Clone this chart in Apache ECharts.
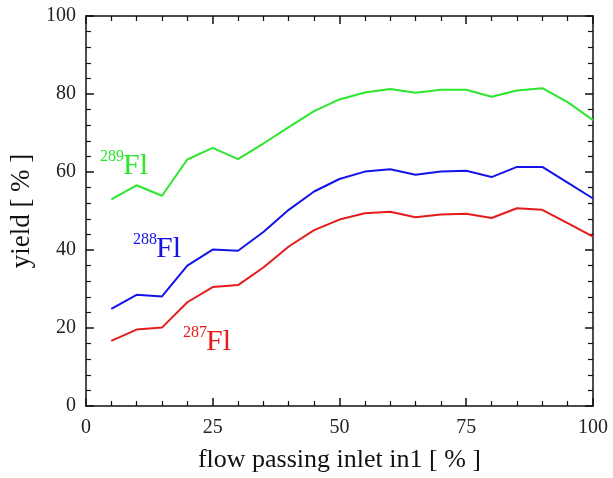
<!DOCTYPE html>
<html>
<head>
<meta charset="utf-8">
<script src="https://cdn.jsdelivr.net/npm/echarts@6/dist/echarts.min.js"></script>
<style>
html, body { margin: 0; padding: 0; background: #fff; }
#main { width: 613px; height: 478px; }
</style>
</head>
<body>
<div id="main"></div>
<script>
// flow passing inlet in1 [%]
var flow = [5, 10, 15, 20, 25, 30, 35, 40, 45, 50, 55, 60, 65, 70, 75, 80, 85, 90, 95, 100];

// yields [%]
var fl289 = [53.0, 56.6, 53.9, 63.2, 66.2, 63.3, 67.3, 71.5, 75.6, 78.6, 80.4, 81.3, 80.3, 81.1, 81.1, 79.3, 80.9, 81.5, 77.9, 73.3];
var fl288 = [24.9, 28.5, 28.1, 36.0, 40.1, 39.8, 44.6, 50.3, 55.0, 58.2, 60.1, 60.7, 59.3, 60.1, 60.3, 58.7, 61.3, 61.3, 57.3, 53.2];
var fl287 = [16.7, 19.6, 20.1, 26.6, 30.5, 31.0, 35.5, 40.9, 45.1, 47.8, 49.4, 49.8, 48.4, 49.1, 49.3, 48.2, 50.7, 50.3, 46.9, 43.4];

var xTicks = [0, 25, 50, 75, 100];
var yTicks = [0, 20, 40, 60, 80, 100];

var FONT = '"Liberation Serif", "DejaVu Serif", serif';
var green = '#2ce62c';
var blue  = '#1414e8';
var red   = '#e41c1c';

function pairs(ys) {
    var out = [];
    for (var i = 0; i < flow.length; i++) {
        out.push([flow[i], ys[i]]);
    }
    return out;
}

var dom   = document.getElementById('main');
var chart = echarts.init(dom);

var axisLine  = { show: true, onZero: false, lineStyle: { color: '#111', width: 1.5 } };
var axisTick  = { show: true, inside: true, length: 8, lineStyle: { color: '#111', width: 1.5 } };
var minorTick = { show: true, splitNumber: 5, length: 5, lineStyle: { color: '#111', width: 1.2 } };

function mirror(pos, isX) {
    return {
        type: 'value',
        position: pos,
        min: 0,
        max: 100,
        interval: isX ? 25 : 20,
        axisLine: axisLine,
        axisTick: axisTick,
        minorTick: minorTick,
        axisLabel: { show: false },
        splitLine: { show: false }
    };
}

// superscript mass number + element symbol
function tag(mass, x, y, color) {
    return [
        {
            type: 'text', left: x, top: y,
            style: { text: mass, fill: color, font: '16px ' + FONT }
        },
        {
            type: 'text', left: x + 23, top: y + 2,
            style: { text: 'Fl', fill: color, font: '30px ' + FONT }
        }
    ];
}

var option = {
    animation: false,
    backgroundColor: '#fff',
    grid: { left: 82, right: 20, top: 16, bottom: 70 },
    xAxis: [
        {
            type: 'value',
            position: 'bottom',
            min: 0,
            max: 100,
            interval: 25,
            name: 'flow passing inlet in1 [ % ]',
            nameLocation: 'middle',
            nameGap: 41,
            nameTextStyle: { fontFamily: FONT, fontSize: 26, color: '#111' },
            axisLine: axisLine,
            axisTick: axisTick,
            minorTick: minorTick,
            axisLabel: {
                margin: 12,
                fontFamily: FONT, fontSize: 20, color: '#222',
                formatter: function (v) { return xTicks.indexOf(v) >= 0 ? String(v) : ''; }
            },
            splitLine: { show: false }
        },
        mirror('top', true)
    ],
    yAxis: [
        {
            type: 'value',
            position: 'left',
            min: 0,
            max: 100,
            interval: 20,
            name: 'yield [ % ]',
            nameLocation: 'middle',
            nameGap: 37,
            nameTextStyle: { fontFamily: FONT, fontSize: 27, color: '#111' },
            axisLine: axisLine,
            axisTick: axisTick,
            minorTick: minorTick,
            axisLabel: {
                margin: 10,
                fontFamily: FONT, fontSize: 20, color: '#222',
                formatter: function (v) { return yTicks.indexOf(v) >= 0 ? String(v) : ''; }
            },
            splitLine: { show: false }
        },
        mirror('right', false)
    ],
    series: [
        { name: '289Fl', type: 'line', data: pairs(fl289), showSymbol: false, lineStyle: { color: green, width: 2 }, itemStyle: { color: green } },
        { name: '288Fl', type: 'line', data: pairs(fl288), showSymbol: false, lineStyle: { color: blue,  width: 2 }, itemStyle: { color: blue } },
        { name: '287Fl', type: 'line', data: pairs(fl287), showSymbol: false, lineStyle: { color: red,   width: 2 }, itemStyle: { color: red } }
    ],
    graphic: [].concat(
        tag('289', 100, 149, green),
        tag('288', 133, 232, blue),
        tag('287', 183, 325, red)
    )
};

chart.setOption(option, true);
</script>
</body>
</html>
